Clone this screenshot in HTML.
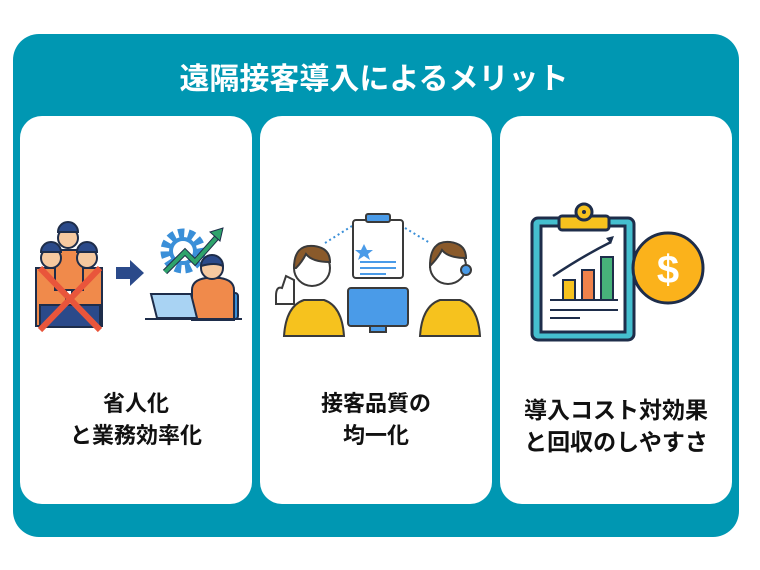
<!DOCTYPE html>
<html><head><meta charset="utf-8"><style>
body{margin:0;width:760px;height:570px;background:#fff;overflow:hidden;font-family:"Liberation Sans","Noto Sans CJK JP",sans-serif}
.t{position:absolute;font-weight:bold;text-align:center;color:#111;font-size:22px;line-height:32px}
</style></head><body>
<svg width="760" height="570" style="position:absolute;left:0;top:0">
<rect x="13" y="34" width="726" height="503" rx="26" fill="#0097b2"/>
<rect x="20" y="116" width="232" height="388" rx="22" fill="#fff"/>
<rect x="260" y="116" width="232" height="388" rx="22" fill="#fff"/>
<rect x="500" y="116" width="232" height="388" rx="22" fill="#fff"/>
<text x="374" y="89" text-anchor="middle" font-size="30" font-weight="bold" fill="#fff" font-family="Liberation Sans,Noto Sans CJK JP,sans-serif">遠隔接客導入によるメリット</text>
<!-- card1 -->
<g stroke="#1e2d4a" stroke-width="2">
<rect x="36" y="268" width="30" height="58" fill="#f08a4b"/>
<rect x="72" y="268" width="30" height="58" fill="#f08a4b"/>
<rect x="55" y="250" width="28" height="40" fill="#f08a4b"/>
<circle cx="68" cy="238" r="10" fill="#f6c9a0"/>
<circle cx="51" cy="258" r="10" fill="#f6c9a0"/>
<circle cx="87" cy="258" r="10" fill="#f6c9a0"/>
<path d="M58 232 a10 10 0 0 1 20 0 z M41 252 a10 10 0 0 1 20 0z M77 252 a10 10 0 0 1 20 0z" fill="#2b4a8a"/>
<rect x="40" y="305" width="60" height="22" fill="#2b4a8a"/>
</g>
<path d="M40 268 L100 330 M100 268 L40 330" stroke="#e9553b" stroke-width="6"/>
<path d="M116 267 h14 v-7 l14 13 l-14 13 v-7 h-14z" fill="#2b4a8a"/>
<circle cx="183" cy="251" r="18" fill="none" stroke="#3a8fd8" stroke-width="9" stroke-dasharray="6 4"/>
<circle cx="183" cy="251" r="12" fill="none" stroke="#3a8fd8" stroke-width="4"/>
<path d="M165 272 L185 252 L195 262 L218 236" stroke="#1e2d4a" stroke-width="6" fill="none"/>
<path d="M165 272 L185 252 L195 262 L218 236" stroke="#2ea36b" stroke-width="4" fill="none"/>
<path d="M210 232 L223 228 L220 241z" fill="#2ea36b" stroke="#1e2d4a"/>
<g stroke="#1e2d4a" stroke-width="2">
<rect x="226" y="293" width="12" height="26" rx="3" fill="#3a8fd8"/>
<path d="M192 320 v-30 q0 -10 14 -12 h14 q14 2 14 12 v30z" fill="#f08a4b"/>
<circle cx="212" cy="268" r="11" fill="#f6c9a0"/>
<path d="M201 266 a11 11 0 0 1 22 0 q-8 -4 -22 0z" fill="#2b4a8a"/>
<path d="M151 294 h40 l6 24 h-40z" fill="#a9d3f3"/>
</g>
<line x1="145" y1="319" x2="242" y2="319" stroke="#1e2d4a" stroke-width="2"/>
<!-- card2 -->
<path d="M325 243 L352 226 M405 228 L430 243" stroke="#3a8fd8" stroke-width="2" stroke-dasharray="2 3"/>
<g stroke="#3a3a3a" stroke-width="2">
<rect x="353" y="220" width="50" height="58" rx="3" fill="#fff"/>
<rect x="366" y="214" width="24" height="8" rx="2" fill="#4a9be8"/>
<rect x="348" y="288" width="60" height="38" rx="3" fill="#4a9be8"/>
<rect x="370" y="326" width="16" height="6" fill="#4a9be8"/>
<path d="M284 336 q2 -30 20 -36 h20 q18 6 20 36z" fill="#f6c21e"/>
<circle cx="312" cy="268" r="18" fill="#fff"/>
<path d="M294 268 q0 -24 20 -22 q16 2 16 16 q-18 0 -24 -8 q-4 8 -10 14z" fill="#8a5a2b"/>
<path d="M276 296 q0 -10 6 -8 l4 -12 l8 4 v24 h-18z" fill="#fff"/>
<path d="M420 336 q2 -30 20 -36 h20 q18 6 20 36z" fill="#f6c21e"/>
<circle cx="448" cy="266" r="18" fill="#fff"/>
<path d="M430 266 q0 -26 20 -24 q16 2 16 16 q-18 0 -24 -8 q-4 8 -12 16z" fill="#8a5a2b"/>
<circle cx="466" cy="270" r="5" fill="#4a9be8"/>
</g>
<path d="M364 244 l3 6 h6 l-5 4 2 6 -6 -4 -6 4 2 -6 -5 -4 h6z" fill="#4a9be8"/>
<path d="M360 262 h36 M360 268 h36 M360 274 h26" stroke="#4a9be8" stroke-width="2"/>
<!-- card3 -->
<g stroke="#1e2d4a" stroke-width="3">
<rect x="532" y="218" width="102" height="122" rx="6" fill="#45bfcf"/>
<rect x="541" y="226" width="84" height="106" fill="#fff"/>
<rect x="559" y="216" width="50" height="14" rx="3" fill="#f6c21e"/>
<circle cx="584" cy="212" r="8" fill="#f6c21e"/>
<rect x="563" y="280" width="12" height="20" fill="#f6c21e" stroke-width="2"/>
<rect x="582" y="270" width="12" height="30" fill="#f0824b" stroke-width="2"/>
<rect x="601" y="257" width="12" height="43" fill="#47b27a" stroke-width="2"/>
<circle cx="668" cy="268" r="35" fill="#fbb21b"/>
</g>
<circle cx="584" cy="212" r="2" fill="#1e2d4a"/>
<path d="M553 276 q30 -20 58 -34" stroke="#1e2d4a" stroke-width="2.5" fill="none"/>
<path d="M606 238 l8 -2 -3 8z" fill="#1e2d4a"/>
<path d="M550 300 h68 M550 310 h68 M550 318 h30" stroke="#1e2d4a" stroke-width="2"/>
<text x="668" y="283" text-anchor="middle" font-size="40" font-weight="bold" fill="#fff" font-family="Liberation Sans,sans-serif">$</text>
</svg>
<div class="t" style="left:20px;top:388px;width:232px">省人化<br>と業務効率化</div>
<div class="t" style="left:260px;top:388px;width:232px">接客品質の<br>均一化</div>
<div class="t" style="left:496px;top:394px;width:240px;font-size:23px">導入コスト対効果<br>と回収のしやすさ</div>
</body></html>
